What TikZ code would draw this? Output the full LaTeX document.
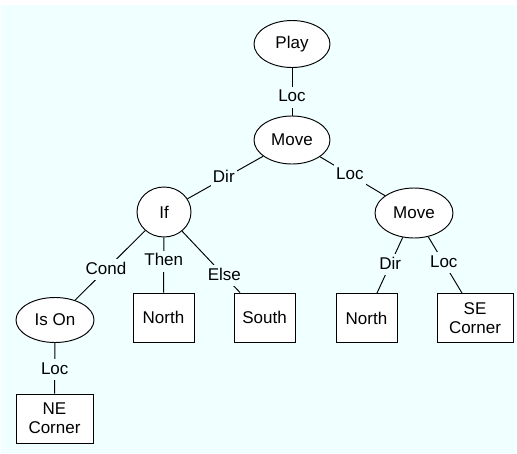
\documentclass[tikz,border=0pt]{standalone}
\usepackage{fontspec}
\setmainfont{Liberation Sans}
\usetikzlibrary{shapes.geometric}
\definecolor{canvas}{RGB}{240,255,255}
\begin{document}
\begin{tikzpicture}[x=1pt,y=-1pt,
  every node/.style={font=\fontsize{17}{19}\selectfont, line width=0.95pt},
  oval/.style={ellipse, draw, fill=white, inner sep=0pt},
  box/.style={rectangle, draw, fill=white, minimum width=61pt, minimum height=49pt, align=center, inner sep=2pt},
  lbl/.style={fill=canvas, inner xsep=2pt, inner ysep=2.5pt, text height=12.5pt, text depth=3.5pt},
  link/.style={line width=0.95pt}]
\useasboundingbox (0,0) rectangle (517,453);
\fill[canvas] (1,5) rectangle (517,453);

% tree nodes
\node[oval, minimum width=76pt, minimum height=47pt] (play)  at (292,44)  {Play};
\node[oval, minimum width=76pt, minimum height=48pt] (move1) at (292,140) {Move};
\node[oval, minimum width=54pt, minimum height=50pt] (if)    at (164,212) {If};
\node[oval, minimum width=78pt, minimum height=50pt] (move2) at (414,213) {Move};
\node[oval, minimum width=78pt, minimum height=45pt] (ison)  at (55,320)  {Is On};
\node[box] (north1) at (163.5,317.5) {North};
\node[box] (south)  at (264.5,317.5) {South};
\node[box] (north2) at (366.5,318)   {North};
\node[box, minimum width=76pt] (se) at (475,318)    {SE\\Corner};
\node[box, minimum width=77pt] (ne) at (54.5,418.5) {NE\\Corner};

% labelled connectors
\draw[link] (play)  -- node[lbl, pos=0.62] {Loc}  (move1);
\draw[link] (move1) -- node[lbl, pos=0.52] {Dir}  (if);
\draw[link] (move1) -- node[lbl, pos=0.46] {Loc}  (move2);
\draw[link] (if)    -- node[lbl, pos=0.56] {Cond} (ison);
\draw[link] (if)    -- node[lbl, pos=0.43] {Then} (north1);
\draw[link] (if)    -- node[lbl, pos=0.73] {Else} ([xshift=-24.5pt]south.north);
\draw[link] (ison)  -- node[lbl, pos=0.53] {Loc}  (ne);
\draw[link] (move2) -- node[lbl, pos=0.49] {Dir}  ([xshift=10.5pt]north2.north);
\draw[link] (move2) -- node[lbl, pos=0.46] {Loc}  ([xshift=-13pt]se.north);
\end{tikzpicture}
\end{document}
